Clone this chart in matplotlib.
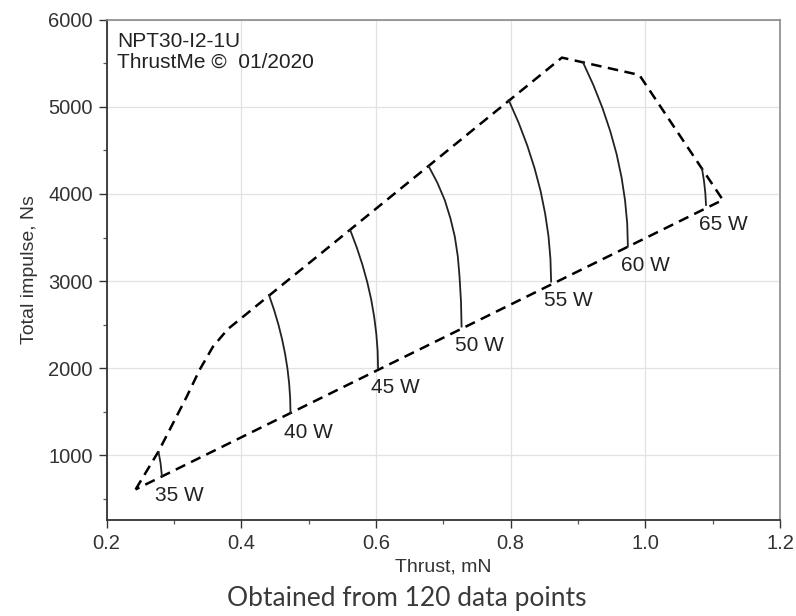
#!/usr/bin/env python3

import matplotlib

matplotlib.use("Agg")
import matplotlib.pyplot as plt
from matplotlib.ticker import MultipleLocator


plt.rcParams["font.family"] = ["Liberation Sans", "DejaVu Sans"]

# operating envelope (dashed), thrust in mN, total impulse in Ns
ENVELOPE_THRUST = [0.243, 0.277, 0.319, 0.338, 0.358, 0.380, 0.876, 0.991, 1.115, 0.243]
ENVELOPE_IMPULSE = [610, 1046, 1676, 1982, 2250, 2450, 5565, 5366, 3932, 610]

# constant power lines, read from top to bottom
THRUST_35W = [0.277, 0.280, 0.282]
IMPULSE_35W = [1040, 913, 765]
THRUST_40W = [0.441, 0.4485, 0.455, 0.4605, 0.465, 0.4685, 0.471, 0.4725, 0.473]
IMPULSE_40W = [2842, 2672, 2503, 2333, 2164, 1994, 1825, 1655, 1486]
THRUST_45W = [0.562, 0.5716, 0.5799, 0.587, 0.5928, 0.5972, 0.6004, 0.6024, 0.603]
IMPULSE_45W = [3579, 3382, 3185, 2988, 2790, 2593, 2396, 2199, 2002]
THRUST_50W = [0.678, 0.691, 0.702, 0.7105, 0.717, 0.7215, 0.724, 0.7262, 0.727]
IMPULSE_50W = [4321, 4130, 3931, 3720, 3510, 3280, 3052, 2760, 2479]
THRUST_55W = [0.797, 0.8118, 0.8246, 0.8354, 0.8443, 0.8511, 0.8561, 0.859, 0.860]
IMPULSE_55W = [5077, 4817, 4556, 4296, 4036, 3776, 3516, 3255, 2995]
THRUST_60W = [0.907, 0.9227, 0.9363, 0.9478, 0.9573, 0.9646, 0.9698, 0.973, 0.974]
IMPULSE_60W = [5516, 5251, 4986, 4721, 4456, 4191, 3926, 3661, 3396]
THRUST_65W = [1.084, 1.087, 1.089, 1.090]
IMPULSE_65W = [4294, 4150, 4010, 3874]

POWER_LABELS = ["35 W", "40 W", "45 W", "50 W", "55 W", "60 W", "65 W"]
POWER_THRUST = [THRUST_35W, THRUST_40W, THRUST_45W, THRUST_50W,
                THRUST_55W, THRUST_60W, THRUST_65W]
POWER_IMPULSE = [IMPULSE_35W, IMPULSE_40W, IMPULSE_45W, IMPULSE_50W,
                 IMPULSE_55W, IMPULSE_60W, IMPULSE_65W]

X_TICKS = [0.2, 0.4, 0.6, 0.8, 1.0, 1.2]
Y_TICKS = [1000, 2000, 3000, 4000, 5000, 6000]


def _style_axes(ax):
    ax.set_xlim(0.2, 1.2)
    ax.set_ylim(260, 6000)
    ax.set_xticks(X_TICKS)
    ax.set_xticklabels([f"{t:.1f}" for t in X_TICKS])
    ax.set_yticks(Y_TICKS)
    ax.xaxis.set_minor_locator(MultipleLocator(0.1))
    ax.yaxis.set_minor_locator(MultipleLocator(500))

    ax.grid(True, which="major", color="#e2e2e2", linewidth=0.9)
    ax.set_axisbelow(True)

    for side in ("left", "bottom"):
        ax.spines[side].set_color("#333333")
        ax.spines[side].set_linewidth(1.3)
    for side in ("top", "right"):
        ax.spines[side].set_color("#8a8a8a")
        ax.spines[side].set_linewidth(1.2)

    ax.tick_params(which="major", direction="out", length=5.5, width=1.0,
                   color="#333333", labelcolor="#333333", labelsize=14.5, pad=4.5)
    ax.tick_params(which="minor", direction="out", length=3, width=0.9,
                   color="#555555")

    ax.set_xlabel("Thrust, mN", fontsize=14, color="#333333", labelpad=4)
    ax.set_ylabel("Total impulse, Ns", fontsize=14, color="#333333", labelpad=7)


def main():
    fig = plt.figure(figsize=(7.96, 6.16), dpi=100)
    ax = fig.add_axes([0.134, 0.156, 0.846, 0.812])

    ax.plot(ENVELOPE_THRUST, ENVELOPE_IMPULSE, color="black", linewidth=1.8,
            linestyle=(0, (4.2, 2.6)), solid_capstyle="butt")

    for label, thrust, impulse in zip(POWER_LABELS, POWER_THRUST, POWER_IMPULSE):
        ax.plot(thrust, impulse, color="#222222", linewidth=1.3)
        ax.annotate(label, xy=(thrust[-1], impulse[-1]), xytext=(-5, -7),
                    textcoords="offset points", ha="left", va="top",
                    fontsize=15, color="#222222")

    ax.text(0.015, 0.975, "NPT30-I2-1U\nThrustMe \u00a9  01/2020",
            transform=ax.transAxes, ha="left", va="top", fontsize=15,
            color="#222222", linespacing=1.1)

    _style_axes(ax)

    fig.text(0.511, 0.008, "Obtained from 120 data points", ha="center",
             va="bottom", fontsize=19, color="#3a3a3a",
             family=["Lato", "DejaVu Sans"])

    fig.savefig("out.png", dpi=100)
    plt.close(fig)


if __name__ == "__main__":
    main()
